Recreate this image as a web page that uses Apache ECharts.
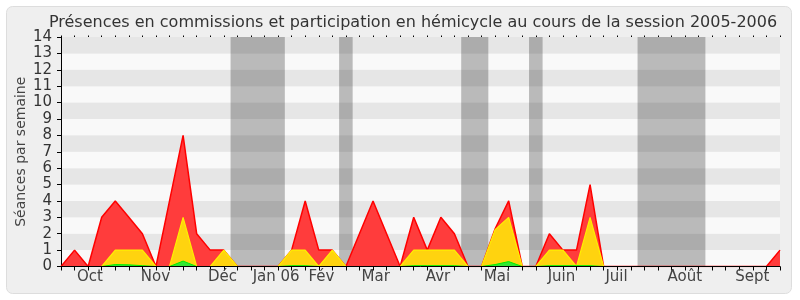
<!DOCTYPE html>
<html>
<head>
<meta charset="utf-8">
<script src="https://cdn.jsdelivr.net/npm/echarts@6/dist/echarts.min.js"></script>
<style>
html,body{margin:0;padding:0;background:#ffffff;}
#c{width:800px;height:300px;}
</style>
</head>
<body>
<div id="c"></div>
<script>
// weekly values (54 weeks, index 0..53)
var presenceTotal = [0,1,0,3,4,3,2,0,4,8,2,1,1,0,0,0,0,1,4,1,1,0,2,4,2,0,3,1,3,2,0,0,2.3,4,0,0,2,1,1,5,0,0,0,0,0,0,0,0,0,0,0,0,0,1];
var participation = [0,0,0,0,1,1,1,0,0,3,0,0,1,0,0,0,0,1,1,0,1,0,0,0,0,0,1,1,1,1,0,0,2.25,3,0,0,1,1,0,3,0,0,0,0,0,0,0,0,0,0,0,0,0,0];
var interventions = [0,0,0,0,0.12,0.1,0.05,0,0,0.33,0,0,0,0,0,0,0,0.05,0.05,0,0,0,0,0,0,0,0.05,0.05,0.05,0.05,0,0,0.12,0.3,0,0,0.05,0.05,0.05,0.05,0,0,0,0,0,0,0,0,0,0,0,0,0,0];
// month labels and their positions (in weeks)
var monthLabels = ['Oct','Nov','Déc','Jan 06','Fév','Mar','Avr','Mai','Juin','Juil','Août','Sept'];
var monthPos = [2.14,6.96,11.9,15.86,19.19,23.2,27.79,32.14,36.89,40.95,45.99,50.96];
// vacation periods (in weeks)
var vacations = [[12.5,16.5],[20.5,21.5],[29.5,31.5],[34.5,35.5],[42.5,47.5]];
var yTicks = [0,1,2,3,4,5,6,7,8,9,10,11,12,13,14];

var weeks = presenceTotal.map(function(_, i){ return i; });
function pairs(arr){ return arr.map(function(v,i){ return [i, v]; }); }

var chart = echarts.init(document.getElementById('c'), null, {renderer:'canvas'});
var font = 'DejaVu Sans';
chart.setOption({
  animation: false,
  backgroundColor: 'transparent',
  graphic: [{
    type: 'rect', z: -10, silent: true,
    shape: {x: 6.5, y: 6.5, width: 785, height: 287, r: 6},
    style: {fill: '#efefef', stroke: '#dddddd', lineWidth: 1}
  }],
  title: {
    text: 'Présences en commissions et participation en hémicycle au cours de la session 2005-2006',
    left: 408, top: 10, textAlign: 'center',
    textStyle: {fontFamily: font, fontSize: 16, fontWeight: 'normal', color: '#333333'}
  },
  grid: {left: 61, right: 20, top: 37, bottom: 33.5},
  xAxis: [{
    type: 'value', min: 0, max: weeks.length - 1, interval: 1, z: 10,
    axisLine: {show: true, lineStyle: {color: '#000000', width: 1}},
    axisTick: {show: true, length: 4, customValues: weeks, lineStyle: {color: '#000000'}},
    axisLabel: {
      customValues: monthPos, margin: 3,
      fontFamily: font, fontSize: 15, color: '#444444',
      formatter: function(v){ var k = monthPos.indexOf(v); return k >= 0 ? monthLabels[k] : ''; }
    },
    splitLine: {show: false}
  },{
    type: 'value', position: 'top', min: 0, max: weeks.length - 1, interval: 1, z: 10,
    axisLine: {show: false},
    axisTick: {show: true, length: 1.5, lineStyle: {color: '#000000'}},
    axisLabel: {show: false},
    splitLine: {show: false}
  }],
  yAxis: {
    type: 'value', min: 0, max: 14, interval: 1,
    name: 'Séances par semaine', nameLocation: 'middle', nameGap: 33, nameRotate: 90,
    nameMoveOverlap: false,
    nameTextStyle: {fontFamily: font, fontSize: 14, color: '#444444'},
    axisLine: {show: true, lineStyle: {color: '#000000', width: 1}},
    axisTick: {show: true, length: 4, lineStyle: {color: '#000000'}},
    axisLabel: {margin: 9, fontFamily: font, fontSize: 15, color: '#333333',
      formatter: function(v){ return yTicks.indexOf(v) >= 0 ? String(v) : ''; }},
    splitLine: {show: false},
    splitArea: {show: true, areaStyle: {color: ['#f9f9f9', '#e6e6e6']}}
  },
  series: [{
    type: 'line', z: 1, data: [], silent: true,
    markArea: {
      silent: true,
      itemStyle: {color: 'rgba(0,0,0,0.25)'},
      data: vacations.map(function(v){ return [{xAxis: v[0]}, {xAxis: v[1]}]; })
    }
  },{
    type: 'line', z: 3, data: pairs(presenceTotal), showSymbol: false, silent: true,
    lineStyle: {color: '#ff0000', width: 1.5},
    areaStyle: {color: '#ff3c3c', opacity: 1}
  },{
    type: 'line', z: 4, data: pairs(participation), showSymbol: false, silent: true,
    lineStyle: {color: '#ffee00', width: 1.2},
    areaStyle: {color: '#ffd30f', opacity: 1}
  },{
    type: 'line', z: 5, data: pairs(interventions), showSymbol: false, silent: true,
    lineStyle: {color: '#00ee00', width: 1},
    areaStyle: {color: '#33e633', opacity: 1}
  }]
});
</script>
</body>
</html>
